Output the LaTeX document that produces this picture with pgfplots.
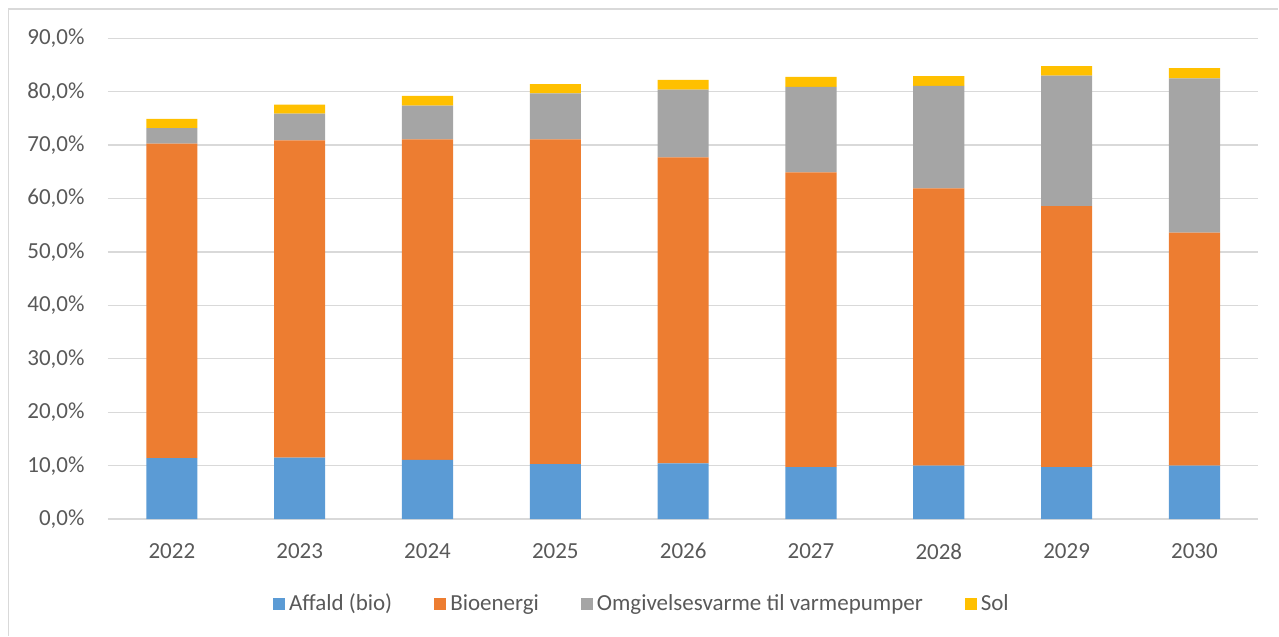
\documentclass[border=0pt]{standalone}
\usepackage{pgfplots}
\pgfplotsset{compat=1.18}
\usepackage{fontspec}
\setmainfont{Carlito}

\definecolor{affald}{HTML}{5B9BD5}
\definecolor{bio}{HTML}{ED7D31}
\definecolor{omgiv}{HTML}{A5A5A5}
\definecolor{sol}{HTML}{FFC000}
\definecolor{gridgrey}{HTML}{D9D9D9}
\definecolor{textgrey}{HTML}{595959}
\newcommand\cf{\fontsize{11.5pt}{14pt}\selectfont}

\begin{document}
\begin{tikzpicture}
\begin{axis}[
  ybar stacked,
  bar width=0.4,
  bar shift=0pt,
  scale only axis,
  width=575.5pt,
  height=240.5pt,
  xmin=-0.5, xmax=8.5,
  ymin=0, ymax=90,
  xtick=data,
  xticklabels={2022,2023,2024,2025,2026,2027,2028,2029,2030},
  ytick={0,10,...,90},
  yticklabel={\pgfmathprintnumber[fixed,fixed zerofill,precision=1,use comma]{\tick}\%},
  /pgf/number format/assume math mode=true,
  major tick length=0pt,
  axis line style={draw=none},
  ymajorgrids,
  major grid style={gridgrey, line width=0.65pt},
  tick label style={font=\cf, text=textgrey, inner sep=0pt},
  yticklabel style={anchor=east, xshift=-11.5pt},
  xticklabel style={anchor=north, yshift=-12pt},
  legend columns=4,
  legend style={draw=none, fill=none, at={(0.465,-0.176)}, anchor=center,
    font=\cf, text=textgrey,
    /tikz/every even column/.append style={column sep=19pt},
    nodes={inner sep=2pt}},
  legend image code/.code={\fill[#1] (-1.5pt,-3pt) rectangle (4.5pt,3pt);},
  clip=false,
]
\coordinate (A) at (rel axis cs:0,0);
\addplot[fill=affald, draw=none] coordinates {
(0,11.4) (1,11.5) (2,11.1) (3,10.3) (4,10.4) (5,9.7) (6,10.0) (7,9.7) (8,10.0)};
\addplot[fill=bio, draw=none] coordinates {
(0,58.9) (1,59.4) (2,60.0) (3,60.8) (4,57.3) (5,55.2) (6,51.9) (7,48.9) (8,43.6)};
\addplot[fill=omgiv, draw=none] coordinates {
(0,2.9) (1,5.0) (2,6.3) (3,8.6) (4,12.7) (5,16.0) (6,19.2) (7,24.4) (8,28.9)};
\addplot[fill=sol, draw=none] coordinates {
(0,1.7) (1,1.7) (2,1.8) (3,1.7) (4,1.8) (5,1.9) (6,1.8) (7,1.8) (8,1.9)};
\legend{Affald (bio), Bioenergi, Omgivelsesvarme til varmepumper, Sol}
\end{axis}
\path ([shift={(-54pt,-58.35pt)}]A) rectangle ([shift={(585.5pt,259.65pt)}]A);
\draw[gridgrey, line width=0.65pt] ([shift={(-49.75pt,-58.35pt)}]A) -- ([shift={(-49.75pt,255.15pt)}]A) -- ([shift={(585.5pt,255.15pt)}]A);
\end{tikzpicture}
\end{document}
